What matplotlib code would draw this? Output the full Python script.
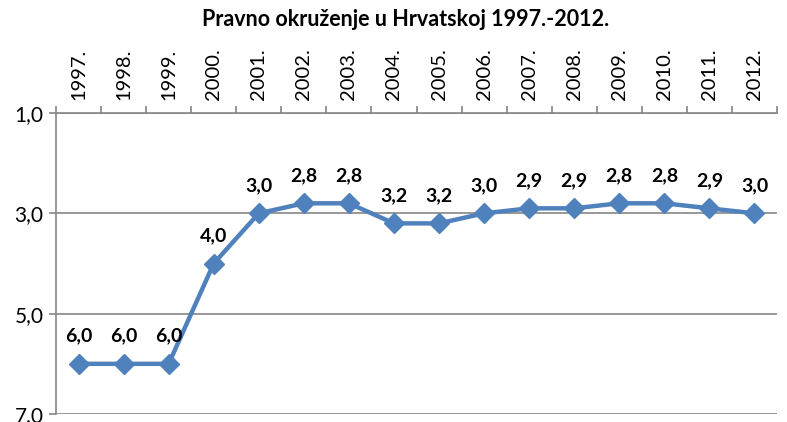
import matplotlib
matplotlib.use("Agg")
import matplotlib.pyplot as plt
import numpy as np

years = ["1997.", "1998.", "1999.", "2000.", "2001.", "2002.", "2003.", "2004.",
         "2005.", "2006.", "2007.", "2008.", "2009.", "2010.", "2011.", "2012."]
values = [6.0, 6.0, 6.0, 4.0, 3.0, 2.8, 2.8, 3.2, 3.2, 3.0, 2.9, 2.9, 2.8, 2.8, 2.9, 3.0]
yticks = [1.0, 3.0, 5.0, 7.0]
title = "Pravno okruženje u Hrvatskoj 1997.-2012."

plt.rcParams['font.family'] = ['Lato', 'DejaVu Sans']

fig = plt.figure(figsize=(7.87, 4.22), dpi=100)
ax = fig.add_axes([56/787, 1-414/422, (777-56)/787, (414-113)/422])

x = np.arange(len(years))
ax.plot(x, values, color='#4F81BD', linewidth=3.2, marker='D', markersize=10,
        markerfacecolor='#4F81BD', markeredgecolor='#4F81BD', zorder=3, clip_on=False)
for xi, v in zip(x, values):
    ax.annotate(f"{v:.1f}".replace('.', ','), (xi, v), xytext=(0, 14),
                textcoords='offset points', ha='center', va='bottom',
                fontsize=14, fontweight='bold', color='black')

ax.set_xlim(-0.5, len(years) - 0.5)
ax.set_ylim(7.0, 1.0)
ax.set_yticks(yticks)
ax.set_yticklabels([f"{t:.1f}".replace('.', ',') for t in yticks], fontsize=15)
ax.yaxis.grid(True, color='#868686', linewidth=1.2)
ax.set_axisbelow(True)

ax.xaxis.tick_top()
ax.set_xticks(x)
ax.set_xticklabels(years, rotation=90, fontsize=14.5)
ax.set_xticks(np.arange(-0.5, len(years)), minor=True)
ax.tick_params(axis='x', which='major', length=0, pad=9)
ax.tick_params(axis='x', which='minor', length=5, color='#868686', width=1.2, direction='out')
ax.tick_params(axis='y', length=5, color='#868686', width=1.2, direction='out', pad=4)

for s in ['right', 'bottom']:
    ax.spines[s].set_visible(False)
for s in ['left', 'top']:
    ax.spines[s].set_color('#868686')
    ax.spines[s].set_linewidth(1.2)

fig.text(406/787, 1-20/422, title, ha='center', va='center', fontsize=15.5, fontweight='bold')

fig.savefig("out.png", dpi=100)
